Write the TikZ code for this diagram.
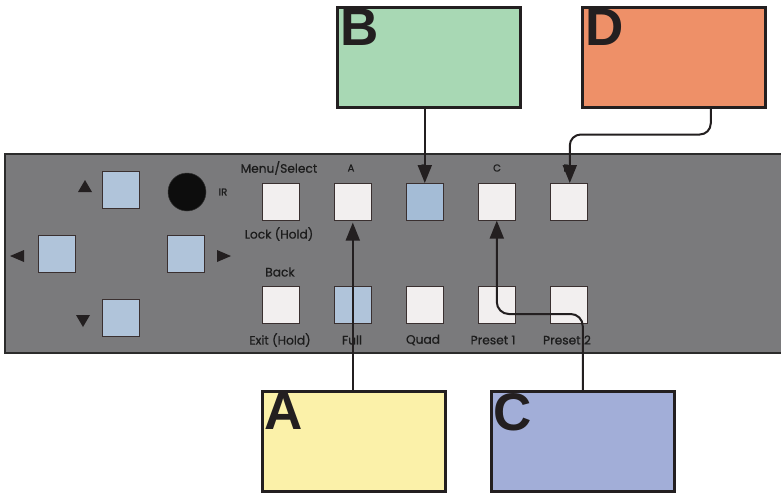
\documentclass[tikz,border=0pt]{standalone}
\usepackage{fontspec}
\usetikzlibrary{arrows.meta,calc}
\newfontfamily\popf[FakeBold=0.7]{Poppins}
\newfontfamily\bigf{Liberation Sans}
\definecolor{panelc}{HTML}{7A7A7C}
\definecolor{paneledge}{HTML}{2B2B2B}
\definecolor{btnwhite}{HTML}{F2EFEF}
\definecolor{btnblue}{HTML}{B0C4DA}
\definecolor{btnblueb}{HTML}{A4BCD6}
\definecolor{btnedge}{HTML}{3A3030}
\definecolor{fillA}{HTML}{FBF1A9}
\definecolor{fillB}{HTML}{A8D8B4}
\definecolor{fillC}{HTML}{A2AED8}
\definecolor{fillD}{HTML}{EE9068}
\definecolor{ink}{HTML}{231F20}
\definecolor{labelc}{HTML}{1C1C1C}
\tikzset{
  btn/.style={draw=btnedge, line width=0.6pt, minimum width=37pt, minimum height=37pt, inner sep=0pt, anchor=north west},
  wbtn/.style={btn, fill=btnwhite},
  bbtn/.style={btn, fill=btnblue},
  callout/.style={draw=ink, line width=2.5pt, minimum width=183pt, minimum height=100pt, inner sep=0pt, anchor=north west},
  bigletter/.style={font=\bigf\bfseries\fontsize{53}{53}\selectfont, text=ink, inner sep=0pt, anchor=north west},
  lbl/.style={font=\popf\fontsize{12.2}{12.2}\selectfont, text=labelc, inner sep=0pt},
  slbl/.style={font=\popf\fontsize{10}{10}\selectfont, text=labelc, inner sep=0pt},
  arr/.style={draw=ink, line width=2pt, -{Triangle[length=18pt,width=14pt]}},
  tri/.style={fill=ink},
}
\begin{document}
\begin{tikzpicture}[x=1pt,y=-1pt]
\clip (0,0) rectangle (781,493);
\fill[white] (0,0) rectangle (781,493);
% panel
\path[fill=panelc, draw=paneledge, line width=2.5pt] (5,154) rectangle (800,353);
% navigation buttons
\node[bbtn] (up) at (102,171) {};
\node[bbtn] (left) at (38,235) {};
\node[bbtn] (right) at (167,235) {};
\node[bbtn] (down) at (102,299) {};
\fill[tri] (78,192) -- (92,192) -- (85,180) -- cycle;
\fill[tri] (24,250) -- (24,262) -- (10,256) -- cycle;
\fill[tri] (217,250) -- (217,262) -- (231,256) -- cycle;
\fill[tri] (76,315) -- (90,315) -- (83,327) -- cycle;
% IR
\node[circle, fill=black!95, draw=black!80, line width=0.5pt, minimum size=38pt, inner sep=0pt] (ir) at (187,192) {};
\node[font=\popf\fontsize{10}{10}\selectfont, text=labelc, inner sep=0pt] (irl) at (223,192) {IR};
% upper row
\node[wbtn] (menu) at (262,183) {};
\node[wbtn] (btnA) at (334,183) {};
\node[btn, fill=btnblueb] (btnB) at (406,183) {};
\node[wbtn] (btnC) at (478,183) {};
\node[wbtn] (btnD) at (550,183) {};
% lower row
\node[wbtn] (back) at (262,286) {};
\node[bbtn] (full) at (334,286) {};
\node[wbtn] (quad) at (406,286) {};
\node[wbtn] (pre1) at (478,286) {};
\node[wbtn] (pre2) at (550,286) {};
% labels
\node[lbl] (lmenu) at (279,168) {Menu/Select};
\node[slbl] (lA) at (351,168) {A};
\node[slbl] (lB) at (424,168) {B};
\node[slbl] (lC) at (497,168) {C};
\node[slbl] (lD) at (567,168) {D};
\node[lbl] (llock) at (279,234) {Lock (Hold)};
\node[lbl] (lback) at (280,272) {Back};
\node[lbl] (lexit) at (280,340) {Exit (Hold)};
\node[lbl] (lfull) at (352,340) {Full};
\node[lbl] (lquad) at (423,340) {Quad};
\node[lbl] (lpre1) at (493,340) {Preset 1};
\node[lbl] (lpre2) at (567,340) {Preset 2};
% callout boxes
\node[callout, fill=fillB] (boxB) at (336,6) {};
\node[callout, fill=fillD] (boxD) at (581,6) {};
\node[callout, fill=fillA] (boxA) at (261,390) {};
\node[callout, fill=fillC] (boxC) at (490,390) {};
\node[bigletter] (tB) at ([shift={(4,3)}]boxB.north west) {B};
\node[bigletter] (tD) at ([shift={(4,3)}]boxD.north west) {D};
\node[bigletter] (tA) at ([shift={(3,3)}]boxA.north west) {A};
\node[bigletter] (tC) at ([shift={(3,3)}]boxC.north west) {C};
% connectors
\coordinate (dstart) at ($(boxD.south)+(37,0)$);
\draw[arr] (btnA.south |- boxA.north) -- ([yshift=-2pt]btnA.south);
\draw[arr] (btnB.north |- boxB.south) -- (btnB.north);
\draw[arr, rounded corners=11pt] (dstart) -- ++(0,26) -| ([xshift=1pt]btnD.north);
\draw[arr, rounded corners=12pt] (boxC.north) -- ++(0,-76) -| (btnC.south);
\end{tikzpicture}
\end{document}
